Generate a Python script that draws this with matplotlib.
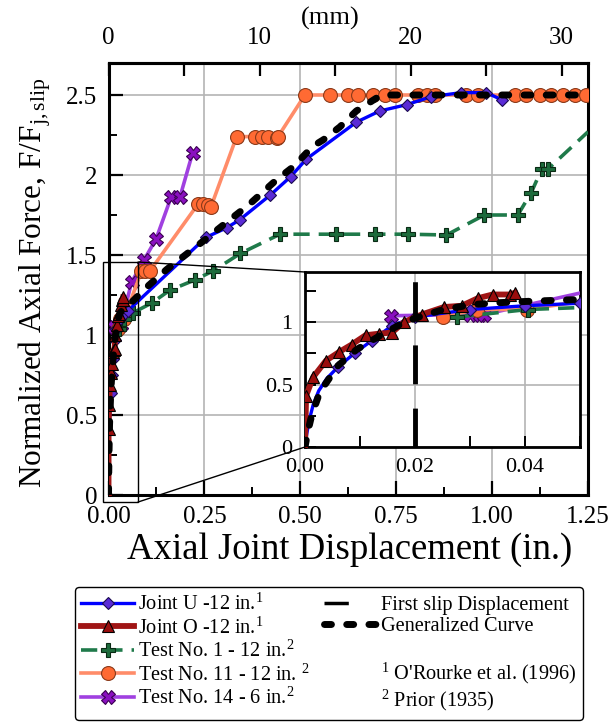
import matplotlib
matplotlib.use("Agg")
import matplotlib.pyplot as plt
from matplotlib.lines import Line2D
from matplotlib.patches import Rectangle, ConnectionPatch
from matplotlib.ticker import MultipleLocator, FixedLocator, FixedFormatter

plt.rcParams['font.family'] = ['Liberation Serif', 'DejaVu Serif']
plt.rcParams['mathtext.fontset'] = 'custom'
plt.rcParams['mathtext.rm'] = 'Liberation Serif'
plt.rcParams['mathtext.it'] = 'Liberation Serif:italic'

# ---- data: axial joint displacement (in.) vs normalized axial force ----
joint_u_x = [0, 0.0003, 0.0008, 0.0015, 0.0025, 0.004, 0.006, 0.009, 0.0121, 0.0158,
             0.02, 0.03, 0.04, 0.05, 0.254, 0.308, 0.342, 0.422, 0.475, 0.516,
             0.646, 0.707, 0.778, 0.842, 0.92, 0.985, 1.025]
joint_u_y = [0, 0.10, 0.22, 0.34, 0.45, 0.55, 0.64, 0.75, 0.85, 0.97,
             1.04, 1.10, 1.13, 1.15, 1.61, 1.67, 1.72, 1.875, 1.99, 2.10,
             2.33, 2.40, 2.44, 2.49, 2.515, 2.515, 2.47]

joint_o_x = [0, 0.0002, 0.0015, 0.0038, 0.0062, 0.0085, 0.011, 0.0135, 0.0158, 0.018,
             0.0212, 0.0253, 0.0285, 0.0314, 0.0341, 0.0373, 0.0382]
joint_o_y = [0, 0.41, 0.56, 0.69, 0.76, 0.82, 0.894, 0.907, 0.915, 1.0,
             1.06, 1.12, 1.13, 1.19, 1.22, 1.22, 1.235]

test1_x = [0.0277, 0.0405, 0.065, 0.1125, 0.16, 0.226, 0.272, 0.344, 0.447, 0.592,
           0.694, 0.781, 0.881, 0.98, 1.067, 1.102, 1.13, 1.147, 1.25]
test1_y = [1.04, 1.10, 1.14, 1.20, 1.28, 1.345, 1.40, 1.51, 1.63, 1.63,
           1.63, 1.63, 1.625, 1.75, 1.75, 1.89, 2.04, 2.04, 2.27]

test11_x = [0.025, 0.0312, 0.0403, 0.086, 0.095, 0.108, 0.234, 0.247, 0.260, 0.267,
            0.334, 0.381, 0.399, 0.416, 0.438, 0.442, 0.512, 0.577, 0.624, 0.651,
            0.69, 0.72, 0.746, 0.807, 0.829, 0.85, 0.933, 0.963, 1.059, 1.089,
            1.124, 1.154, 1.184, 1.215, 1.245]
test11_y = [1.04, 1.10, 1.10, 1.40, 1.40, 1.40, 1.82, 1.82, 1.81, 1.80,
            2.24, 2.24, 2.24, 2.24, 2.23, 2.24, 2.50, 2.50, 2.50, 2.50,
            2.50, 2.50, 2.50, 2.50, 2.50, 2.50, 2.50, 2.50, 2.50, 2.50,
            2.50, 2.50, 2.50, 2.50, 2.50]

test14_x = [0.0156, 0.030, 0.0318, 0.0326, 0.060, 0.092, 0.124, 0.163, 0.186, 0.219]
test14_y = [1.05, 1.06, 1.06, 1.06, 1.33, 1.466, 1.60, 1.86, 1.86, 2.136]

general_x = [0, 0.0005, 0.0012, 0.0027, 0.006, 0.0094, 0.014, 0.0173, 0.02, 0.0252,
             0.0306, 0.0355, 0.0415, 0.05, 0.10, 0.152, 0.238, 0.316, 0.364, 0.438,
             0.481, 0.533, 0.56, 0.603, 0.646, 0.685, 0.711, 0.80, 0.90, 1.00,
             1.10, 1.25]
general_y = [0, 0.12, 0.25, 0.44, 0.65, 0.78, 0.90, 0.98, 1.03, 1.10,
             1.14, 1.155, 1.167, 1.18, 1.30, 1.41, 1.57, 1.72, 1.81, 1.97,
             2.05, 2.18, 2.22, 2.30, 2.40, 2.46, 2.50, 2.50, 2.50, 2.50,
             2.50, 2.50]

first_slip_x = 0.02

x_ticks = [0, 0.25, 0.50, 0.75, 1.00, 1.25]
x_ticklabels = ["0.00", "0.25", "0.50", "0.75", "1.00", "1.25"]
y_ticks = [0, 0.5, 1, 1.5, 2, 2.5]
y_ticklabels = ["0", "0.5", "1", "1.5", "2", "2.5"]
mm_ticks = [0, 10, 20, 30]
inset_x_ticks = [0, 0.02, 0.04]
inset_x_ticklabels = ["0.00", "0.02", "0.04"]
inset_y_ticks = [0, 0.5, 1]
inset_y_ticklabels = ["0", "0.5", "1"]

labels = ["Joint U -12 in.$^{1}$", "Joint O -12 in.$^{1}$", "Test No. 1 - 12 in.$^{2}$",
          "Test No. 11 - 12 in. $^{2}$", "Test No. 14 - 6 in.$^{2}$",
          "First slip Displacement", "Generalized Curve", " ",
          "$^{1}$ O'Rourke et al. (1996)", "$^{2}$ Prior (1935)"]

# ---- styles ----
st_u = dict(color='#0000ff', lw=2.4, marker='D', ms=6, mfc='#5a2bd6', mec='#1a0a50', mew=0.8, zorder=4)
st_o = dict(color='#a01515', lw=4.2, marker='^', ms=8, mfc='#9a0d0d', mec='black', mew=0.8, zorder=5)
st_t1 = dict(color='#1f7a4a', lw=2.6, dashes=(4.5, 2.5), marker='P', ms=10, mfc='#1d6b3c',
             mec='#0a2a14', mew=0.8, zorder=3)
st_t11 = dict(color='#ff8c69', lw=2.6, marker='o', ms=10, mfc='#ff6a33', mec='#8a3a1a', mew=0.8, zorder=3)
st_t14 = dict(color='#a040e0', lw=2.6, marker='X', ms=10, mfc='#8a10c0', mec='#3a0050', mew=0.8, zorder=3)
st_gen = dict(color='black', lw=5.0, dashes=(1.0, 2.2), dash_capstyle='round', zorder=6)

fig = plt.figure(figsize=(6.15, 7.23), dpi=100)
W, H = 615.0, 723.0
ax = fig.add_axes([108.5 / W, 1 - 495 / H, (588 - 108.5) / W, (495 - 63) / H])
axin = fig.add_axes([305 / W, 1 - 447 / H, 275 / W, 175 / H])


def draw_series(a):
    a.plot(test14_x, test14_y, **st_t14)
    a.plot(test11_x, test11_y, **st_t11)
    a.plot(test1_x, test1_y, markevery=list(range(len(test1_x) - 1)), **st_t1)
    a.plot(joint_u_x, joint_u_y, markevery=list(range(6, len(joint_u_x))), **st_u)
    a.plot(joint_o_x, joint_o_y, **st_o)
    a.plot(general_x, general_y, **st_gen)


draw_series(ax)
draw_series(axin)
axin.axvline(first_slip_x, color='black', lw=3.5, dashes=(8, 5), zorder=7)

# ---- main axes ----
ax.set_xlim(0, 1.25)
ax.set_ylim(0, 2.7)
ax.xaxis.set_major_locator(FixedLocator(x_ticks))
ax.xaxis.set_major_formatter(FixedFormatter(x_ticklabels))
ax.xaxis.set_minor_locator(MultipleLocator(0.125))
ax.yaxis.set_major_locator(FixedLocator(y_ticks))
ax.yaxis.set_major_formatter(FixedFormatter(y_ticklabels))
ax.yaxis.set_minor_locator(MultipleLocator(0.25))
ax.tick_params(which='both', direction='in', top=False, right=False, labelsize=18, pad=8)
ax.tick_params(which='major', length=10, width=1.6)
ax.tick_params(which='minor', length=6, width=1.4)
ax.grid(which='major', color='#b4b4b4', lw=1.2)
ax.set_axisbelow(True)
for s in ax.spines.values():
    s.set_linewidth(2.2)

top = ax.secondary_xaxis('top', functions=(lambda v: v * 25.4, lambda v: v / 25.4))
top.xaxis.set_major_locator(FixedLocator(mm_ticks))
top.xaxis.set_minor_locator(MultipleLocator(5))
top.tick_params(which='both', direction='in', length=9, width=1.6, labelsize=18, pad=10)
top.spines['top'].set_linewidth(2.2)

fig.text(330 / W, 1 - 18 / H, "(mm)", ha='center', va='center', size=19)
fig.text(350 / W, 1 - 550 / H, "Axial Joint Displacement (in.)", ha='center', va='center', size=26.5)
fig.text(35 / W, 1 - 283 / H, r"Normalized Axial Force, F/F$_{\mathrm{j,slip}}$",
         ha='center', va='center', rotation=90, size=22.5)

# ---- inset axes ----
axin.set_xlim(0, 0.05)
axin.set_ylim(0, 1.4)
axin.xaxis.set_major_locator(FixedLocator(inset_x_ticks))
axin.xaxis.set_major_formatter(FixedFormatter(inset_x_ticklabels))
axin.xaxis.set_minor_locator(MultipleLocator(0.01))
axin.yaxis.set_major_locator(FixedLocator(inset_y_ticks))
axin.yaxis.set_major_formatter(FixedFormatter(inset_y_ticklabels))
axin.yaxis.set_minor_locator(MultipleLocator(0.25))
axin.tick_params(which='both', direction='in', length=8, width=1.4, labelsize=16,
                 top=False, right=False)
axin.tick_params(axis='x', pad=8)
axin.tick_params(axis='y', pad=9)
axin.grid(which='major', color='#b4b4b4', lw=1.2)
axin.set_axisbelow(True)
for s in axin.spines.values():
    s.set_linewidth(2.0)

# zoom indicator and connector lines
ax.add_patch(Rectangle((-0.014, -0.044), 0.091, 1.50, fill=False, ec='black', lw=1.0,
                       clip_on=False, zorder=8))
for (xa, ya), (xb, yb) in [((0.077, 1.456), (0, 1.4)), ((0.077, -0.044), (0, 0))]:
    cp = ConnectionPatch(xyA=(xa, ya), coordsA=ax.transData, xyB=(xb, yb), coordsB=axin.transData,
                         color='black', lw=1.0, zorder=8)
    fig.add_artist(cp)

# ---- legend ----
h_u = Line2D([], [], **st_u)
h_o = Line2D([], [], **st_o)
h_t1 = Line2D([], [], **st_t1)
h_t11 = Line2D([], [], **st_t11)
h_t14 = Line2D([], [], **st_t14)
h_fs = Line2D([], [], color='black', lw=2.5, dashes=(7, 11))
h_gen = Line2D([], [], **st_gen)
h_blank = Line2D([], [], ls='none')
h_n1 = Line2D([], [], ls='none')
h_n2 = Line2D([], [], ls='none')
leg = fig.legend([h_u, h_o, h_t1, h_t11, h_t14, h_fs, h_gen, h_blank, h_n1, h_n2], labels,
                 ncol=2, loc='upper left', bbox_to_anchor=(75 / W, 1 - 587 / H),
                 borderaxespad=0, fontsize=14.6, handlelength=2.6, handletextpad=0.2,
                 columnspacing=0.7, labelspacing=0.12, borderpad=0.32, fancybox=True,
                 edgecolor='black', framealpha=1, numpoints=1)
leg.get_frame().set_linewidth(1.0)

fig.savefig("out.png", dpi=100)
